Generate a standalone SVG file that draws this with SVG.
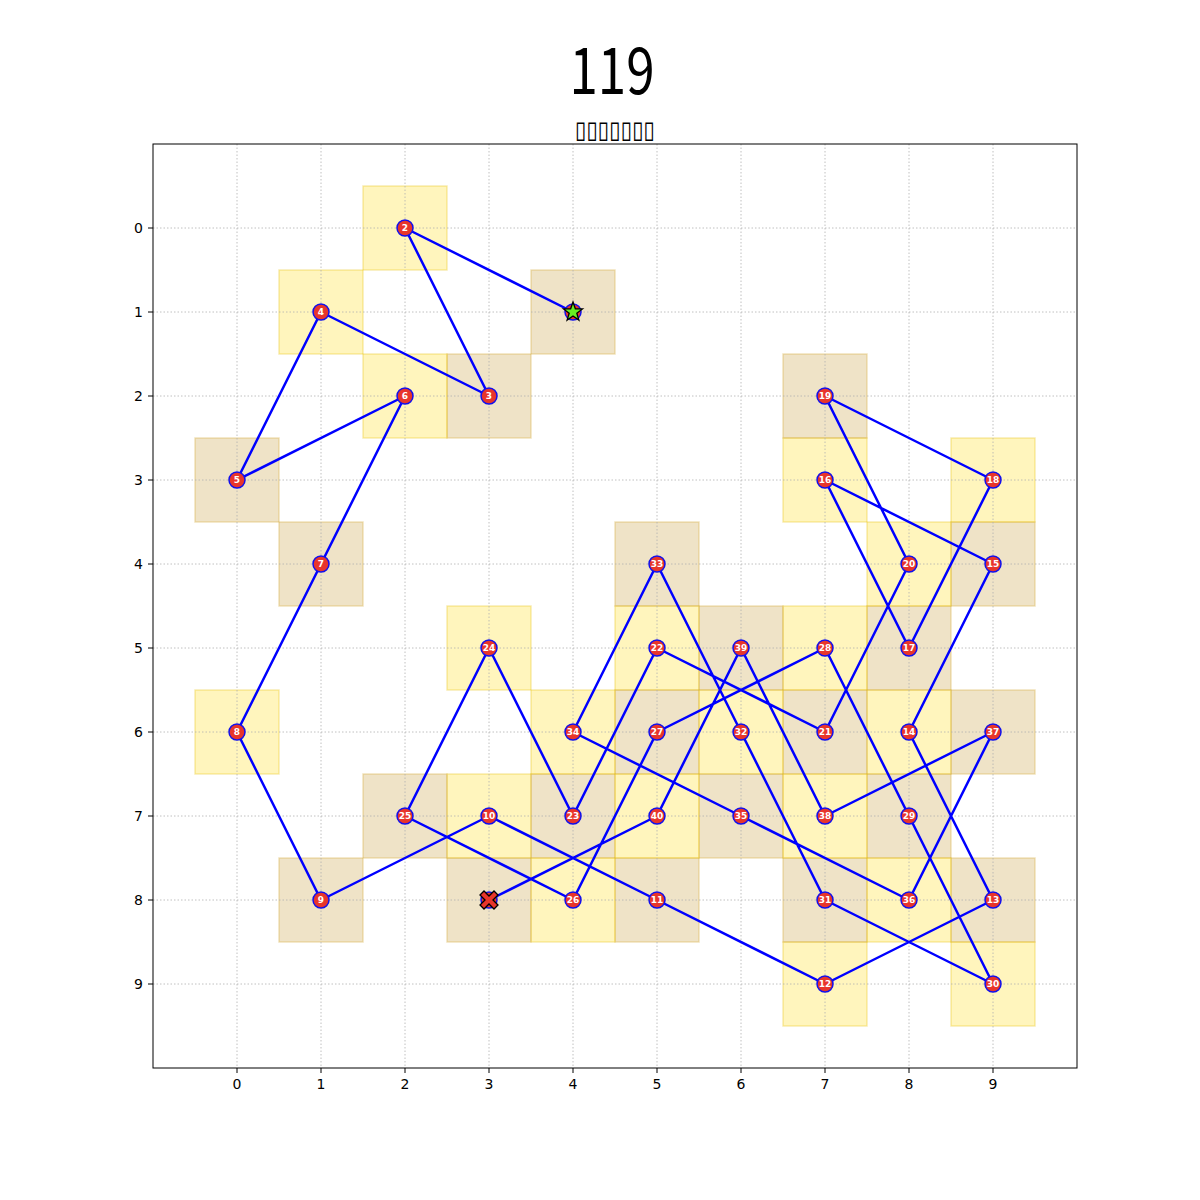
<svg xmlns="http://www.w3.org/2000/svg" width="1200" height="1200" viewBox="0 0 1200 1200">
<style>
.cy{fill:#ffd700;fill-opacity:0.26;stroke:#e8c000;stroke-opacity:0.3;stroke-width:1.5}
.ct{fill:#b8860b;fill-opacity:0.23;stroke:#d8b040;stroke-opacity:0.35;stroke-width:1.5}
.grid line{stroke:#b0b0b0;stroke-width:0.8;stroke-dasharray:1.5,2}
.tick{stroke:#000;stroke-width:1}
.tl{font-family:"DejaVu Sans",sans-serif;font-size:14px;fill:#000}
.node circle{fill:#e8352b;stroke:#1010ee;stroke-width:1.5}
.node text{font-family:"DejaVu Sans",sans-serif;font-weight:bold;font-size:9px;fill:#fff;text-anchor:middle}
</style>
<rect width="1200" height="1200" fill="#fff"/>
<text x="612" y="94" font-family="Noto Sans CJK SC,Liberation Sans,sans-serif" font-weight="400" font-size="65" text-anchor="middle" textLength="85" lengthAdjust="spacingAndGlyphs">119</text>
<text x="615" y="138" font-family="DejaVu Sans,sans-serif" font-size="24" text-anchor="middle" textLength="80" lengthAdjust="spacingAndGlyphs">▯▯▯▯▯▯▯</text>
<g id="cells">
<rect class="ct" x="531" y="270" width="84" height="84"/>
<rect class="cy" x="363" y="186" width="84" height="84"/>
<rect class="ct" x="447" y="354" width="84" height="84"/>
<rect class="cy" x="279" y="270" width="84" height="84"/>
<rect class="ct" x="195" y="438" width="84" height="84"/>
<rect class="cy" x="363" y="354" width="84" height="84"/>
<rect class="ct" x="279" y="522" width="84" height="84"/>
<rect class="cy" x="195" y="690" width="84" height="84"/>
<rect class="ct" x="279" y="858" width="84" height="84"/>
<rect class="cy" x="447" y="774" width="84" height="84"/>
<rect class="ct" x="615" y="858" width="84" height="84"/>
<rect class="cy" x="783" y="942" width="84" height="84"/>
<rect class="ct" x="951" y="858" width="84" height="84"/>
<rect class="cy" x="867" y="690" width="84" height="84"/>
<rect class="ct" x="951" y="522" width="84" height="84"/>
<rect class="cy" x="783" y="438" width="84" height="84"/>
<rect class="ct" x="867" y="606" width="84" height="84"/>
<rect class="cy" x="951" y="438" width="84" height="84"/>
<rect class="ct" x="783" y="354" width="84" height="84"/>
<rect class="cy" x="867" y="522" width="84" height="84"/>
<rect class="ct" x="783" y="690" width="84" height="84"/>
<rect class="cy" x="615" y="606" width="84" height="84"/>
<rect class="ct" x="531" y="774" width="84" height="84"/>
<rect class="cy" x="447" y="606" width="84" height="84"/>
<rect class="ct" x="363" y="774" width="84" height="84"/>
<rect class="cy" x="531" y="858" width="84" height="84"/>
<rect class="ct" x="615" y="690" width="84" height="84"/>
<rect class="cy" x="783" y="606" width="84" height="84"/>
<rect class="ct" x="867" y="774" width="84" height="84"/>
<rect class="cy" x="951" y="942" width="84" height="84"/>
<rect class="ct" x="783" y="858" width="84" height="84"/>
<rect class="cy" x="699" y="690" width="84" height="84"/>
<rect class="ct" x="615" y="522" width="84" height="84"/>
<rect class="cy" x="531" y="690" width="84" height="84"/>
<rect class="ct" x="699" y="774" width="84" height="84"/>
<rect class="cy" x="867" y="858" width="84" height="84"/>
<rect class="ct" x="951" y="690" width="84" height="84"/>
<rect class="cy" x="783" y="774" width="84" height="84"/>
<rect class="ct" x="699" y="606" width="84" height="84"/>
<rect class="cy" x="615" y="774" width="84" height="84"/>
<rect class="ct" x="447" y="858" width="84" height="84"/>
</g>
<g class="grid">
<line x1="237" y1="144" x2="237" y2="1068"/><line x1="321" y1="144" x2="321" y2="1068"/><line x1="405" y1="144" x2="405" y2="1068"/><line x1="489" y1="144" x2="489" y2="1068"/><line x1="573" y1="144" x2="573" y2="1068"/><line x1="657" y1="144" x2="657" y2="1068"/><line x1="741" y1="144" x2="741" y2="1068"/><line x1="825" y1="144" x2="825" y2="1068"/><line x1="909" y1="144" x2="909" y2="1068"/><line x1="993" y1="144" x2="993" y2="1068"/>
<line x1="153" y1="228" x2="1077" y2="228"/><line x1="153" y1="312" x2="1077" y2="312"/><line x1="153" y1="396" x2="1077" y2="396"/><line x1="153" y1="480" x2="1077" y2="480"/><line x1="153" y1="564" x2="1077" y2="564"/><line x1="153" y1="648" x2="1077" y2="648"/><line x1="153" y1="732" x2="1077" y2="732"/><line x1="153" y1="816" x2="1077" y2="816"/><line x1="153" y1="900" x2="1077" y2="900"/><line x1="153" y1="984" x2="1077" y2="984"/>
</g>
<rect x="153" y="144" width="924" height="924" fill="none" stroke="#000" stroke-width="1"/>
<g class="tick">
<line x1="237" y1="1068" x2="237" y2="1073"/><line x1="321" y1="1068" x2="321" y2="1073"/><line x1="405" y1="1068" x2="405" y2="1073"/><line x1="489" y1="1068" x2="489" y2="1073"/><line x1="573" y1="1068" x2="573" y2="1073"/><line x1="657" y1="1068" x2="657" y2="1073"/><line x1="741" y1="1068" x2="741" y2="1073"/><line x1="825" y1="1068" x2="825" y2="1073"/><line x1="909" y1="1068" x2="909" y2="1073"/><line x1="993" y1="1068" x2="993" y2="1073"/>
<line x1="148" y1="228" x2="153" y2="228"/><line x1="148" y1="312" x2="153" y2="312"/><line x1="148" y1="396" x2="153" y2="396"/><line x1="148" y1="480" x2="153" y2="480"/><line x1="148" y1="564" x2="153" y2="564"/><line x1="148" y1="648" x2="153" y2="648"/><line x1="148" y1="732" x2="153" y2="732"/><line x1="148" y1="816" x2="153" y2="816"/><line x1="148" y1="900" x2="153" y2="900"/><line x1="148" y1="984" x2="153" y2="984"/>
</g>
<g class="tl" text-anchor="middle">
<text x="237" y="1089">0</text><text x="321" y="1089">1</text><text x="405" y="1089">2</text><text x="489" y="1089">3</text><text x="573" y="1089">4</text><text x="657" y="1089">5</text><text x="741" y="1089">6</text><text x="825" y="1089">7</text><text x="909" y="1089">8</text><text x="993" y="1089">9</text>
</g>
<g class="tl" text-anchor="end">
<text x="143" y="233">0</text><text x="143" y="317">1</text><text x="143" y="401">2</text><text x="143" y="485">3</text><text x="143" y="569">4</text><text x="143" y="653">5</text><text x="143" y="737">6</text><text x="143" y="821">7</text><text x="143" y="905">8</text><text x="143" y="989">9</text>
</g>
<g id="connectors">
<polyline fill="none" stroke="#0000ff" stroke-width="2.5" stroke-linejoin="round" points="573,312 405,228 489,396 321,312 237,480 405,396 321,564 237,732 321,900 489,816 657,900 825,984 993,900 909,732 993,564 825,480 909,648 993,480 825,396 909,564 825,732 657,648 573,816 489,648 405,816 573,900 657,732 825,648 909,816 993,984 825,900 741,732 657,564 573,732 741,816 909,900 993,732 825,816 741,648 657,816 489,900"/>
</g>
<g id="node-1" class="node"><circle cx="573" cy="312" r="8"/><polygon points="573,302 575.35,308.76 582.51,308.91 576.8,313.24 578.88,320.09 573,316 567.12,320.09 569.2,313.24 563.49,308.91 570.65,308.76" fill="#66ee22" stroke="#000" stroke-width="1.3"/></g>
<g id="node-2" class="node"><circle cx="405" cy="228" r="8"/><text x="405" y="231.3">2</text></g>
<g id="node-3" class="node"><circle cx="489" cy="396" r="8"/><text x="489" y="399.3">3</text></g>
<g id="node-4" class="node"><circle cx="321" cy="312" r="8"/><text x="321" y="315.3">4</text></g>
<g id="node-5" class="node"><circle cx="237" cy="480" r="8"/><text x="237" y="483.3">5</text></g>
<g id="node-6" class="node"><circle cx="405" cy="396" r="8"/><text x="405" y="399.3">6</text></g>
<g id="node-7" class="node"><circle cx="321" cy="564" r="8"/><text x="321" y="567.3">7</text></g>
<g id="node-8" class="node"><circle cx="237" cy="732" r="8"/><text x="237" y="735.3">8</text></g>
<g id="node-9" class="node"><circle cx="321" cy="900" r="8"/><text x="321" y="903.3">9</text></g>
<g id="node-10" class="node"><circle cx="489" cy="816" r="8"/><text x="489" y="819.3">10</text></g>
<g id="node-11" class="node"><circle cx="657" cy="900" r="8"/><text x="657" y="903.3">11</text></g>
<g id="node-12" class="node"><circle cx="825" cy="984" r="8"/><text x="825" y="987.3">12</text></g>
<g id="node-13" class="node"><circle cx="993" cy="900" r="8"/><text x="993" y="903.3">13</text></g>
<g id="node-14" class="node"><circle cx="909" cy="732" r="8"/><text x="909" y="735.3">14</text></g>
<g id="node-15" class="node"><circle cx="993" cy="564" r="8"/><text x="993" y="567.3">15</text></g>
<g id="node-16" class="node"><circle cx="825" cy="480" r="8"/><text x="825" y="483.3">16</text></g>
<g id="node-17" class="node"><circle cx="909" cy="648" r="8"/><text x="909" y="651.3">17</text></g>
<g id="node-18" class="node"><circle cx="993" cy="480" r="8"/><text x="993" y="483.3">18</text></g>
<g id="node-19" class="node"><circle cx="825" cy="396" r="8"/><text x="825" y="399.3">19</text></g>
<g id="node-20" class="node"><circle cx="909" cy="564" r="8"/><text x="909" y="567.3">20</text></g>
<g id="node-21" class="node"><circle cx="825" cy="732" r="8"/><text x="825" y="735.3">21</text></g>
<g id="node-22" class="node"><circle cx="657" cy="648" r="8"/><text x="657" y="651.3">22</text></g>
<g id="node-23" class="node"><circle cx="573" cy="816" r="8"/><text x="573" y="819.3">23</text></g>
<g id="node-24" class="node"><circle cx="489" cy="648" r="8"/><text x="489" y="651.3">24</text></g>
<g id="node-25" class="node"><circle cx="405" cy="816" r="8"/><text x="405" y="819.3">25</text></g>
<g id="node-26" class="node"><circle cx="573" cy="900" r="8"/><text x="573" y="903.3">26</text></g>
<g id="node-27" class="node"><circle cx="657" cy="732" r="8"/><text x="657" y="735.3">27</text></g>
<g id="node-28" class="node"><circle cx="825" cy="648" r="8"/><text x="825" y="651.3">28</text></g>
<g id="node-29" class="node"><circle cx="909" cy="816" r="8"/><text x="909" y="819.3">29</text></g>
<g id="node-30" class="node"><circle cx="993" cy="984" r="8"/><text x="993" y="987.3">30</text></g>
<g id="node-31" class="node"><circle cx="825" cy="900" r="8"/><text x="825" y="903.3">31</text></g>
<g id="node-32" class="node"><circle cx="741" cy="732" r="8"/><text x="741" y="735.3">32</text></g>
<g id="node-33" class="node"><circle cx="657" cy="564" r="8"/><text x="657" y="567.3">33</text></g>
<g id="node-34" class="node"><circle cx="573" cy="732" r="8"/><text x="573" y="735.3">34</text></g>
<g id="node-35" class="node"><circle cx="741" cy="816" r="8"/><text x="741" y="819.3">35</text></g>
<g id="node-36" class="node"><circle cx="909" cy="900" r="8"/><text x="909" y="903.3">36</text></g>
<g id="node-37" class="node"><circle cx="993" cy="732" r="8"/><text x="993" y="735.3">37</text></g>
<g id="node-38" class="node"><circle cx="825" cy="816" r="8"/><text x="825" y="819.3">38</text></g>
<g id="node-39" class="node"><circle cx="741" cy="648" r="8"/><text x="741" y="651.3">39</text></g>
<g id="node-40" class="node"><circle cx="657" cy="816" r="8"/><text x="657" y="819.3">40</text></g>
<g id="node-41" class="node"><circle cx="489" cy="900" r="8"/><polygon transform="translate(489,900)" points="-9,-5 -5,-9 0,-4 5,-9 9,-5 4,0 9,5 5,9 0,4 -5,9 -9,5 -4,0" fill="#e8352b" stroke="#000" stroke-width="1.3"/></g>
</svg>
